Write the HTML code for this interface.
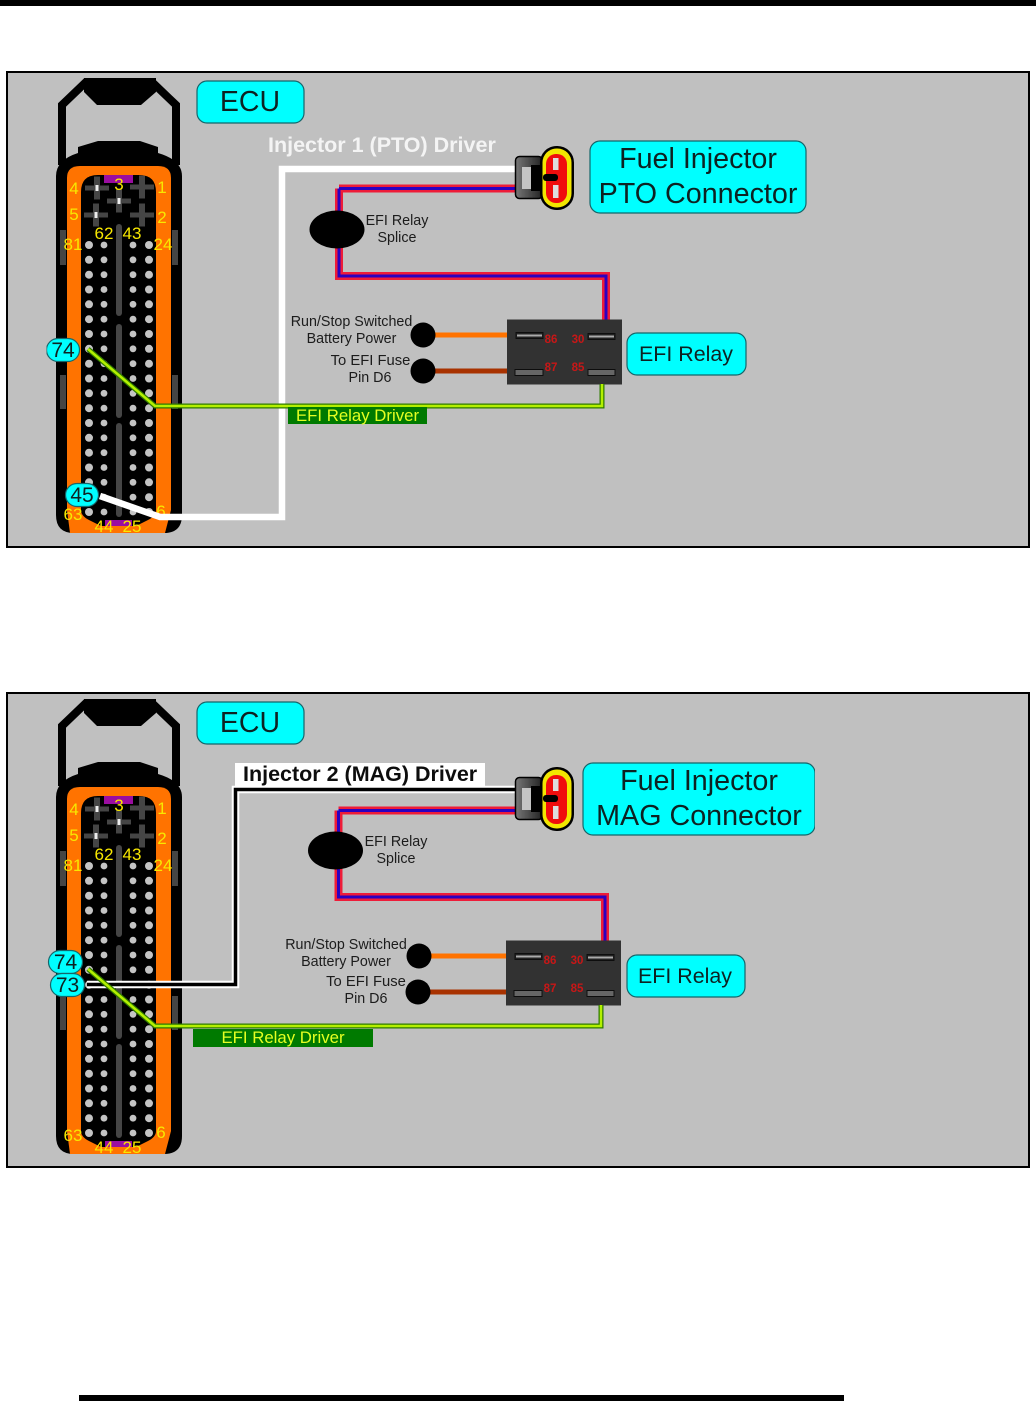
<!DOCTYPE html>
<html><head><meta charset="utf-8"><style>
html,body{margin:0;padding:0;background:#fff}
svg{display:block}
text{font-family:"Liberation Sans",sans-serif}
.y{fill:#f8e800;font-size:17px;text-anchor:middle}
.g{fill:#1c1c1c;font-size:14.300px;text-anchor:middle}
.b{fill:#00ffff;stroke:#17666a;stroke-width:1.2}
.bt{fill:#102020;text-anchor:middle}
.r{fill:#c81818;font-size:11.500px;font-weight:bold;text-anchor:middle}
</style></head><body>
<svg width="1036" height="1412" viewBox="0 0 1036 1412" xmlns="http://www.w3.org/2000/svg">
<defs>
<filter id="soft" x="0" y="0" width="100%" height="100%"><feGaussianBlur stdDeviation="0.35"/></filter>
<linearGradient id="hg" x1="0" y1="0" x2="1" y2="0"><stop offset="0" stop-color="#777"/><stop offset="1" stop-color="#222"/></linearGradient>
<g id="row"><circle cx="89" cy="0" r="4" fill="#c4c4c4"/><circle cx="104" cy="0" r="3.400" fill="#c4c4c4"/><circle cx="133" cy="0" r="3.400" fill="#c4c4c4"/><circle cx="149" cy="0" r="4" fill="#c4c4c4"/></g>
<g id="cross"><rect x="-12" y="-2.500" width="24" height="5" fill="#444"/><rect x="-3" y="-11.500" width="6" height="23" fill="#444"/><rect x="-1.500" y="-3" width="3" height="6" fill="#eee"/></g>
<g id="cross2"><rect x="-12" y="-2.500" width="24" height="5" fill="#444"/><rect x="-3" y="-11.500" width="6" height="23" fill="#444"/></g>
<g id="ecu">
<path d="M62 165V105L86 82H152L176 105V165" fill="none" stroke="#000" stroke-width="8"/>
<path d="M84 78H156V92L141 105H97L84 92Z" fill="#000"/>
<path d="M56 176Q56 160 78 153V147L98 141H140L158 147V153Q182 160 182 176V515Q182 533 164 533H74Q56 533 56 515Z" fill="#000"/>
<path d="M67 178Q67 166 80 166H158Q171 166 171 178V510L165 533H70L67 510Z" fill="#ff7300"/>
<path d="M81 192Q81 175 98 175H139Q156 175 156 192V510Q156 516 148 520L136 526H101L89 520Q81 516 81 510Z" fill="#000"/>
<rect x="104" y="175" width="29" height="8" fill="#9a0aa0"/>
<rect x="105" y="520" width="27" height="6" fill="#9a0aa0"/>
<use href="#cross" x="97" y="188"/><use href="#cross2" x="142" y="187"/><use href="#cross" x="119" y="201"/><use href="#cross" x="96" y="215"/><use href="#cross2" x="142" y="215"/>
<rect x="116" y="224" width="6" height="92" rx="3" fill="#444"/>
<rect x="116" y="324" width="6" height="94" rx="3" fill="#444"/>
<rect x="116" y="423" width="6" height="94" rx="3" fill="#444"/>
<rect x="60" y="230" width="6" height="35" fill="#444"/><rect x="172" y="230" width="6" height="35" fill="#444"/>
<rect x="60" y="375" width="6" height="34" fill="#444"/><rect x="172" y="375" width="6" height="34" fill="#444"/>
<use href="#row" y="245"/><use href="#row" y="259.800"/><use href="#row" y="274.700"/><use href="#row" y="289.500"/><use href="#row" y="304.300"/><use href="#row" y="319.200"/><use href="#row" y="334"/><use href="#row" y="348.800"/><use href="#row" y="363.700"/><use href="#row" y="378.500"/><use href="#row" y="393.300"/><use href="#row" y="408.200"/><use href="#row" y="423"/><use href="#row" y="437.800"/><use href="#row" y="452.700"/><use href="#row" y="467.500"/><use href="#row" y="482.300"/><use href="#row" y="497.200"/><use href="#row" y="512"/>
</g>
<g id="conn">
<rect x="515.500" y="156.500" width="27" height="42" rx="4" fill="url(#hg)" stroke="#000" stroke-width="1.500"/>
<rect x="522" y="167" width="9" height="22" fill="#c4c4c4"/>
<rect x="531" y="165" width="10" height="26" fill="#000"/>
<rect x="540" y="146" width="34" height="64" rx="16.500" fill="#000"/>
<rect x="542.500" y="148.500" width="29" height="59" rx="14" fill="#f2e600"/>
<rect x="546" y="154" width="21" height="49" rx="10" fill="#f01010"/>
<rect x="543" y="174" width="15" height="7" rx="3" fill="#000"/>
<rect x="553" y="158" width="5.500" height="12" fill="#ddd"/>
<rect x="553" y="185" width="5.500" height="13" fill="#ddd"/>
</g>
<g id="pins">
<rect x="0" y="0" width="115" height="65" fill="#333"/>
<rect x="9" y="13" width="27" height="6" fill="#222" stroke="#111"/><rect x="10" y="15" width="25" height="2" fill="#aaa"/>
<rect x="81" y="14" width="27" height="6" fill="#222" stroke="#111"/><rect x="82" y="16" width="25" height="2" fill="#aaa"/>
<rect x="8" y="50" width="28" height="6" fill="#666" stroke="#111"/>
<rect x="81" y="50" width="27" height="6" fill="#666" stroke="#111"/>
</g>
</defs>

<rect width="1036" height="6" fill="#000"/>
<rect x="79" y="1395" width="765" height="6" fill="#000"/>
<rect x="7" y="72" width="1022" height="475" fill="#c0c0c0" stroke="#000" stroke-width="2"/>
<rect x="7" y="693" width="1022" height="474" fill="#c0c0c0" stroke="#000" stroke-width="2"/>

<g filter="url(#soft)">
<!-- PANEL 1 -->
<use href="#ecu"/>
<text class="y" x="74" y="194">4</text><text class="y" x="119" y="190">3</text><text class="y" x="162" y="193">1</text>
<text class="y" x="74" y="220">5</text><text class="y" x="162" y="223">2</text>
<text class="y" x="73" y="250">81</text><text class="y" x="104" y="239">62</text><text class="y" x="132" y="239">43</text><text class="y" x="163" y="250">24</text>
<text class="y" x="73" y="520">63</text><text class="y" x="161" y="517">6</text><text class="y" x="104" y="532">44</text><text class="y" x="132" y="532">25</text>

<path d="M339 188.500H516M339 188.500V276H606V320" fill="none" stroke="#ee1c38" stroke-width="8"/>
<path d="M339 188.500H516M339 188.500V276H606V320" fill="none" stroke="#2a00c0" stroke-width="3"/>
<ellipse cx="337" cy="229.500" rx="27.500" ry="19" fill="#000"/>
<text class="g" x="397" y="225">EFI Relay</text><text class="g" x="397" y="242">Splice</text>

<path d="M100 496L160 517H282V169H516" fill="none" stroke="#fff" stroke-width="6.500"/>
<text x="268" y="152" font-size="21.500" font-weight="bold" fill="#f4f4f4">Injector 1 (PTO) Driver</text>
<use href="#conn"/>

<path d="M423 335H508" stroke="#ff7300" stroke-width="5"/><path d="M423 371H508" stroke="#a83000" stroke-width="5"/>
<circle cx="423" cy="335" r="12.500" fill="#000"/><circle cx="423" cy="371" r="12.500" fill="#000"/>
<text class="g" x="351.500" y="326">Run/Stop Switched</text><text class="g" x="351.500" y="343">Battery Power</text>
<text class="g" x="370.500" y="365" style="font-size:14.800px">To EFI Fuse</text><text class="g" x="370" y="382">Pin D6</text>

<use href="#pins" x="507" y="319.500"/>
<text class="r" x="551" y="343">86</text><text class="r" x="578" y="343">30</text><text class="r" x="551" y="371">87</text><text class="r" x="578" y="371">85</text>

<path d="M88 349L155 406H602V384" fill="none" stroke="#2f7a00" stroke-width="5"/>
<path d="M88 349L155 406H602V384" fill="none" stroke="#b4f000" stroke-width="2.500"/>
<rect x="288" y="407" width="139" height="17" fill="#007a00"/>
<text x="357.500" y="421" font-size="16.800" fill="#e4ff20" text-anchor="middle">EFI Relay Driver</text>

<rect class="b" x="46.500" y="338.500" width="33" height="23" rx="11.500"/><text class="bt" x="63" y="357" font-size="21">74</text>
<rect class="b" x="65.500" y="483.500" width="33" height="23" rx="11.500"/><text class="bt" x="82" y="502" font-size="21">45</text>

<rect class="b" x="197" y="81" width="107" height="42" rx="10"/><text class="bt" x="250" y="111" font-size="28.500">ECU</text>
<rect class="b" x="590" y="141" width="216" height="72" rx="10"/><text class="bt" x="698" y="168" font-size="28.700">Fuel Injector</text><text class="bt" x="698" y="203" font-size="28.700">PTO Connector</text>
<rect class="b" x="627" y="333" width="119" height="42" rx="10"/><text class="bt" x="686" y="361" font-size="21.400">EFI Relay</text>

<!-- PANEL 2 -->
<use href="#ecu" y="621"/>
<text class="y" x="74" y="815">4</text><text class="y" x="119" y="811">3</text><text class="y" x="162" y="814">1</text>
<text class="y" x="74" y="841">5</text><text class="y" x="162" y="844">2</text>
<text class="y" x="73" y="871">81</text><text class="y" x="104" y="860">62</text><text class="y" x="132" y="860">43</text><text class="y" x="163" y="871">24</text>
<text class="y" x="73" y="1141">63</text><text class="y" x="161" y="1138">6</text><text class="y" x="104" y="1153">44</text><text class="y" x="132" y="1153">25</text>

<path d="M338.500 810.500H516M338.500 810.500V897H605V941" fill="none" stroke="#ee1c38" stroke-width="8"/>
<path d="M338.500 810.500H516M338.500 810.500V897H605V941" fill="none" stroke="#2a00c0" stroke-width="3"/>
<ellipse cx="335.500" cy="850.500" rx="27.500" ry="19" fill="#000"/>
<text class="g" x="396" y="846">EFI Relay</text><text class="g" x="396" y="863">Splice</text>

<path d="M87 984.500H235.500V789.500H516" fill="none" stroke="#fff" stroke-width="7.500"/>
<path d="M87 984.500H235.500V789.500H516" fill="none" stroke="#000" stroke-width="3.500"/>
<rect x="235" y="763" width="250" height="23" fill="#fff"/>
<text x="243" y="781" font-size="21.500" font-weight="bold" fill="#111">Injector 2 (MAG) Driver</text>
<use href="#conn" y="621"/>

<path d="M419 956H507" stroke="#ff7300" stroke-width="5"/><path d="M418 992H507" stroke="#a83000" stroke-width="5"/>
<circle cx="419" cy="956" r="12.500" fill="#000"/><circle cx="418" cy="992" r="12.500" fill="#000"/>
<text class="g" x="346" y="949">Run/Stop Switched</text><text class="g" x="346" y="966">Battery Power</text>
<text class="g" x="366" y="986" style="font-size:14.800px">To EFI Fuse</text><text class="g" x="366" y="1003">Pin D6</text>

<use href="#pins" x="506" y="940.500"/>
<text class="r" x="550" y="964">86</text><text class="r" x="577" y="964">30</text><text class="r" x="550" y="992">87</text><text class="r" x="577" y="992">85</text>

<path d="M88 969L155 1026H601V1005" fill="none" stroke="#2f7a00" stroke-width="5"/>
<path d="M88 969L155 1026H601V1005" fill="none" stroke="#b4f000" stroke-width="2.500"/>
<rect x="193" y="1029" width="180" height="18" fill="#007a00"/>
<text x="283" y="1043" font-size="16.800" fill="#e4ff20" text-anchor="middle">EFI Relay Driver</text>

<rect class="b" x="48.500" y="950.500" width="34" height="23" rx="11.500"/><text class="bt" x="65.500" y="969" font-size="21">74</text>
<rect class="b" x="50.500" y="973.500" width="34" height="23" rx="11.500"/><text class="bt" x="67.500" y="992" font-size="21">73</text>

<rect class="b" x="197" y="702" width="107" height="42" rx="10"/><text class="bt" x="250" y="732" font-size="28.500">ECU</text>
<rect class="b" x="583" y="763" width="232" height="72" rx="10"/><text class="bt" x="699" y="790" font-size="28.700">Fuel Injector</text><text class="bt" x="699" y="825" font-size="28.700">MAG Connector</text>
<rect class="b" x="627" y="955" width="118" height="42" rx="10"/><text class="bt" x="685" y="983" font-size="21.400">EFI Relay</text>
</g>
</svg>
</body></html>
